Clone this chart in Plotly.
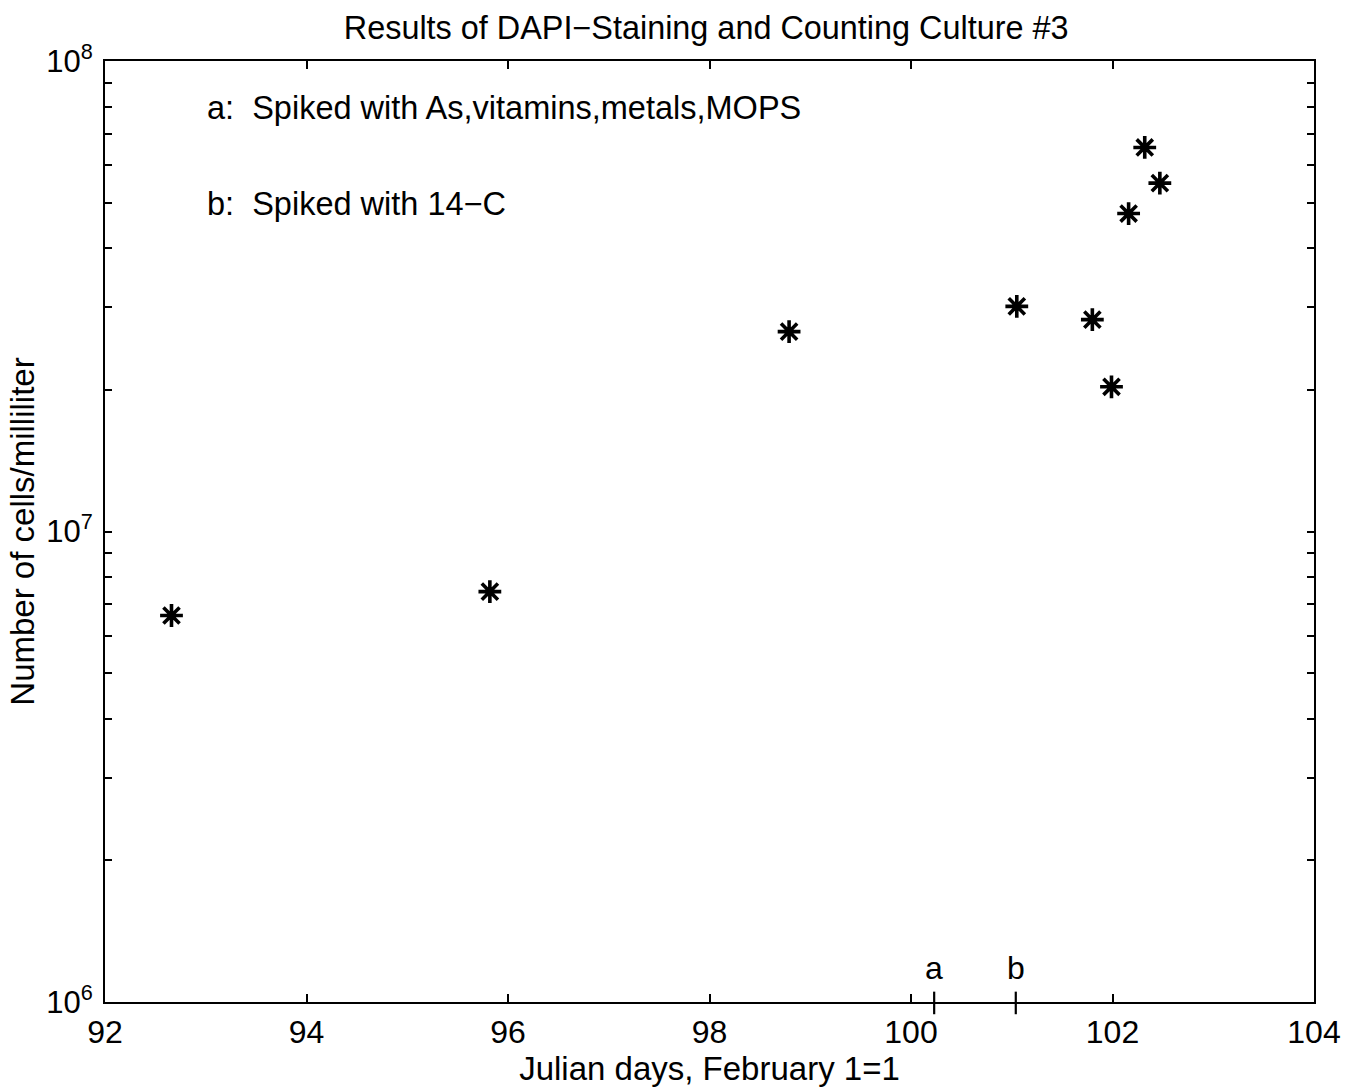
import plotly.graph_objects as go

# Data
julian_days = [92.66, 95.82, 98.79, 101.05, 101.80, 101.99, 102.16, 102.32, 102.47]
cells_per_ml = [6.63e6, 7.45e6, 2.66e7, 3.01e7, 2.82e7, 2.03e7, 4.74e7, 6.55e7, 5.50e7]

event_days = [100.23, 101.04]
event_labels = ["a", "b"]
notes = ["a:\u00a0 Spiked with As,vitamins,metals,MOPS", "b:\u00a0 Spiked with 14\u2212C"]

x_ticks = [92, 94, 96, 98, 100, 102, 104]
y_decades = [6, 7, 8]

font_family = "Liberation Sans, Arial, Helvetica, sans-serif"

# y tick positions: decades plus 2..9 minor (MATLAB-style)
y_tickvals = []
y_ticktext = []
for d in y_decades:
    for m in range(1, 10):
        if d == y_decades[-1] and m > 1:
            break
        y_tickvals.append(m * 10 ** d)
        y_ticktext.append(f"10<sup>{d}</sup>" if m == 1 else "")

fig = go.Figure()
fig.add_trace(go.Scatter(
    x=julian_days, y=cells_per_ml, mode="markers",
    marker=dict(symbol="asterisk-open", size=19, color="black",
                line=dict(color="black", width=3.6)),
    showlegend=False, hoverinfo="x+y"))

# event ticks crossing the x axis, with labels above
for d, lab in zip(event_days, event_labels):
    fig.add_shape(type="line", xref="x", yref="paper", x0=d, x1=d, y0=-0.013, y1=0.011,
                  line=dict(color="black", width=2.2), layer="above")
    fig.add_annotation(x=d, y=0, xref="x", yref="paper", text=lab, showarrow=False,
                       yanchor="middle", yshift=34,
                       font=dict(size=32, color="black", family=font_family))

for i, n in enumerate(notes):
    fig.add_annotation(x=0.083, y=0.950 - i * 0.102, xref="paper", yref="paper", text=n,
                       showarrow=False, xanchor="left", yanchor="middle",
                       font=dict(size=32.5, color="black", family=font_family))

fig.update_layout(
    width=1358, height=1090,
    margin=dict(l=105, r=44, t=61, b=88),
    paper_bgcolor="white", plot_bgcolor="white",
    font=dict(family=font_family, color="black", size=32),
    title=dict(text="Results of DAPI\u2212Staining and Counting Culture #3",
               x=0.520, xanchor="center", y=0.975, yanchor="middle",
               font=dict(size=32.4, color="black", family=font_family)),
    xaxis=dict(range=[92, 104], tickvals=x_ticks, ticks="inside", ticklen=8,
               tickwidth=1.5, tickcolor="black", showline=True, linecolor="black",
               linewidth=2, mirror="ticks", showgrid=False, zeroline=False,
               ticklabelstandoff=1, tickfont=dict(size=32),
               title=dict(text="Julian days, February 1=1", standoff=2,
                          font=dict(size=33))),
    yaxis=dict(type="log", range=[6, 8], tickvals=y_tickvals, ticktext=y_ticktext,
               ticks="inside", ticklen=7, tickwidth=1.5, tickcolor="black",
               showline=True, linecolor="black", linewidth=2, mirror="ticks",
               showgrid=False, zeroline=False, tickfont=dict(size=31),
               ticklabelstandoff=4,
               title=dict(text="Number of cells/milliliter", standoff=2,
                          font=dict(size=33))),
)

fig.write_html("out.html")
